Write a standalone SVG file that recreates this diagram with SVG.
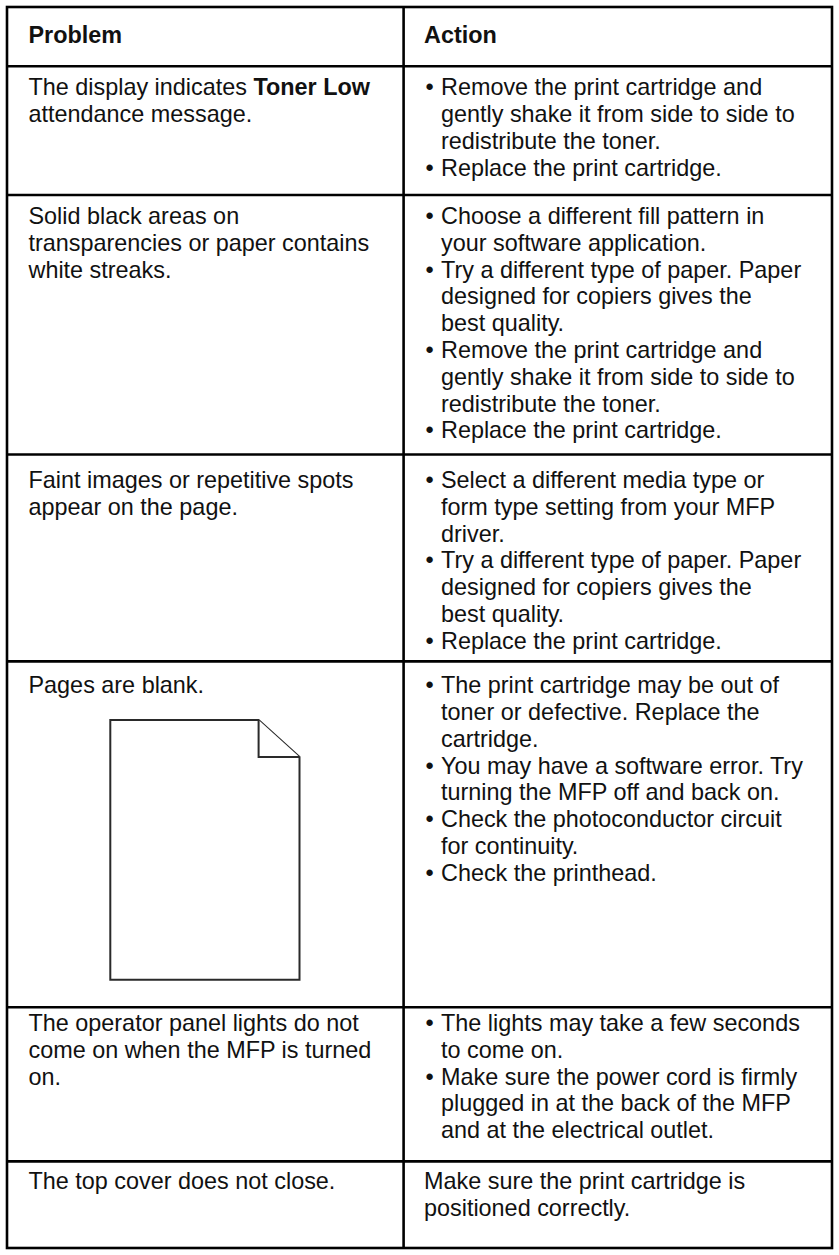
<svg xmlns="http://www.w3.org/2000/svg" width="839" height="1255" viewBox="0 0 839 1255">
<style>
.t{font-family:"Liberation Sans",Arial,Helvetica,sans-serif;font-size:23.4px;fill:#111}
.b{font-weight:bold}
.g{stroke:#000;stroke-width:2.6;fill:none}
.pg{stroke:#2a2a2a;stroke-width:2;fill:#fff;stroke-linejoin:miter}
</style>
<rect width="839" height="1255" fill="#fff"/>
<g id="grid">
<rect class="g" x="7" y="7" width="825" height="1241"/>
<line class="g" x1="403.6" y1="7" x2="403.6" y2="1248"/>
<line class="g" x1="7" y1="66.3" x2="832" y2="66.3"/>
<line class="g" x1="7" y1="195" x2="832" y2="195"/>
<line class="g" x1="7" y1="454.5" x2="832" y2="454.5"/>
<line class="g" x1="7" y1="661.4" x2="832" y2="661.4"/>
<line class="g" x1="7" y1="1007.3" x2="832" y2="1007.3"/>
<line class="g" x1="7" y1="1161.4" x2="832" y2="1161.4"/>
</g>
<g id="header">
<text class="t b" x="28.5" y="43.2">Problem</text>
<text class="t b" x="424" y="43.2">Action</text>
</g>
<g id="row1">
<text class="t" x="28.5" y="95.3">The display indicates <tspan class="b">Toner Low</tspan></text>
<text class="t" x="28.5" y="122.1">attendance message.</text>
<text class="t" x="425.5" y="95.3">•</text>
<text class="t" x="441" y="95.3">Remove the print cartridge and</text>
<text class="t" x="441" y="122.1">gently shake it from side to side to</text>
<text class="t" x="441" y="148.9">redistribute the toner.</text>
<text class="t" x="425.5" y="175.7">•</text>
<text class="t" x="441" y="175.7">Replace the print cartridge.</text>
</g>
<g id="row2">
<text class="t" x="28.5" y="224">Solid black areas on</text>
<text class="t" x="28.5" y="250.8">transparencies or paper contains</text>
<text class="t" x="28.5" y="277.6">white streaks.</text>
<text class="t" x="425.5" y="224">•</text>
<text class="t" x="441" y="224">Choose a different fill pattern in</text>
<text class="t" x="441" y="250.8">your software application.</text>
<text class="t" x="425.5" y="277.6">•</text>
<text class="t" x="441" y="277.6">Try a different type of paper. Paper</text>
<text class="t" x="441" y="304.4">designed for copiers gives the</text>
<text class="t" x="441" y="331.2">best quality.</text>
<text class="t" x="425.5" y="358">•</text>
<text class="t" x="441" y="358">Remove the print cartridge and</text>
<text class="t" x="441" y="384.8">gently shake it from side to side to</text>
<text class="t" x="441" y="411.6">redistribute the toner.</text>
<text class="t" x="425.5" y="438.4">•</text>
<text class="t" x="441" y="438.4">Replace the print cartridge.</text>
</g>
<g id="row3">
<text class="t" x="28.5" y="488">Faint images or repetitive spots</text>
<text class="t" x="28.5" y="514.8">appear on the page.</text>
<text class="t" x="425.5" y="488">•</text>
<text class="t" x="441" y="488">Select a different media type or</text>
<text class="t" x="441" y="514.8">form type setting from your MFP</text>
<text class="t" x="441" y="541.6">driver.</text>
<text class="t" x="425.5" y="568.4">•</text>
<text class="t" x="441" y="568.4">Try a different type of paper. Paper</text>
<text class="t" x="441" y="595.2">designed for copiers gives the</text>
<text class="t" x="441" y="622">best quality.</text>
<text class="t" x="425.5" y="648.8">•</text>
<text class="t" x="441" y="648.8">Replace the print cartridge.</text>
</g>
<g id="row4">
<text class="t" x="28.5" y="693.2">Pages are blank.</text>
<g id="blank-page">
<path class="pg" d="M110.3,720 H258.6 L299.5,757 V979.7 H110.3 Z"/>
<path class="pg" d="M258.6,720 V757 H299.5" fill="none"/>
</g>
<text class="t" x="425.5" y="693.2">•</text>
<text class="t" x="441" y="693.2">The print cartridge may be out of</text>
<text class="t" x="441" y="720">toner or defective. Replace the</text>
<text class="t" x="441" y="746.8">cartridge.</text>
<text class="t" x="425.5" y="773.6">•</text>
<text class="t" x="441" y="773.6">You may have a software error. Try</text>
<text class="t" x="441" y="800.4">turning the MFP off and back on.</text>
<text class="t" x="425.5" y="827.2">•</text>
<text class="t" x="441" y="827.2">Check the photoconductor circuit</text>
<text class="t" x="441" y="854">for continuity.</text>
<text class="t" x="425.5" y="880.8">•</text>
<text class="t" x="441" y="880.8">Check the printhead.</text>
</g>
<g id="row5">
<text class="t" x="28.5" y="1031">The operator panel lights do not</text>
<text class="t" x="28.5" y="1057.8">come on when the MFP is turned</text>
<text class="t" x="28.5" y="1084.6">on.</text>
<text class="t" x="425.5" y="1031">•</text>
<text class="t" x="441" y="1031">The lights may take a few seconds</text>
<text class="t" x="441" y="1057.8">to come on.</text>
<text class="t" x="425.5" y="1084.6">•</text>
<text class="t" x="441" y="1084.6">Make sure the power cord is firmly</text>
<text class="t" x="441" y="1111.4">plugged in at the back of the MFP</text>
<text class="t" x="441" y="1138.2">and at the electrical outlet.</text>
</g>
<g id="row6">
<text class="t" x="28.5" y="1189">The top cover does not close.</text>
<text class="t" x="424" y="1189">Make sure the print cartridge is</text>
<text class="t" x="424" y="1215.8">positioned correctly.</text>
</g>
</svg>
